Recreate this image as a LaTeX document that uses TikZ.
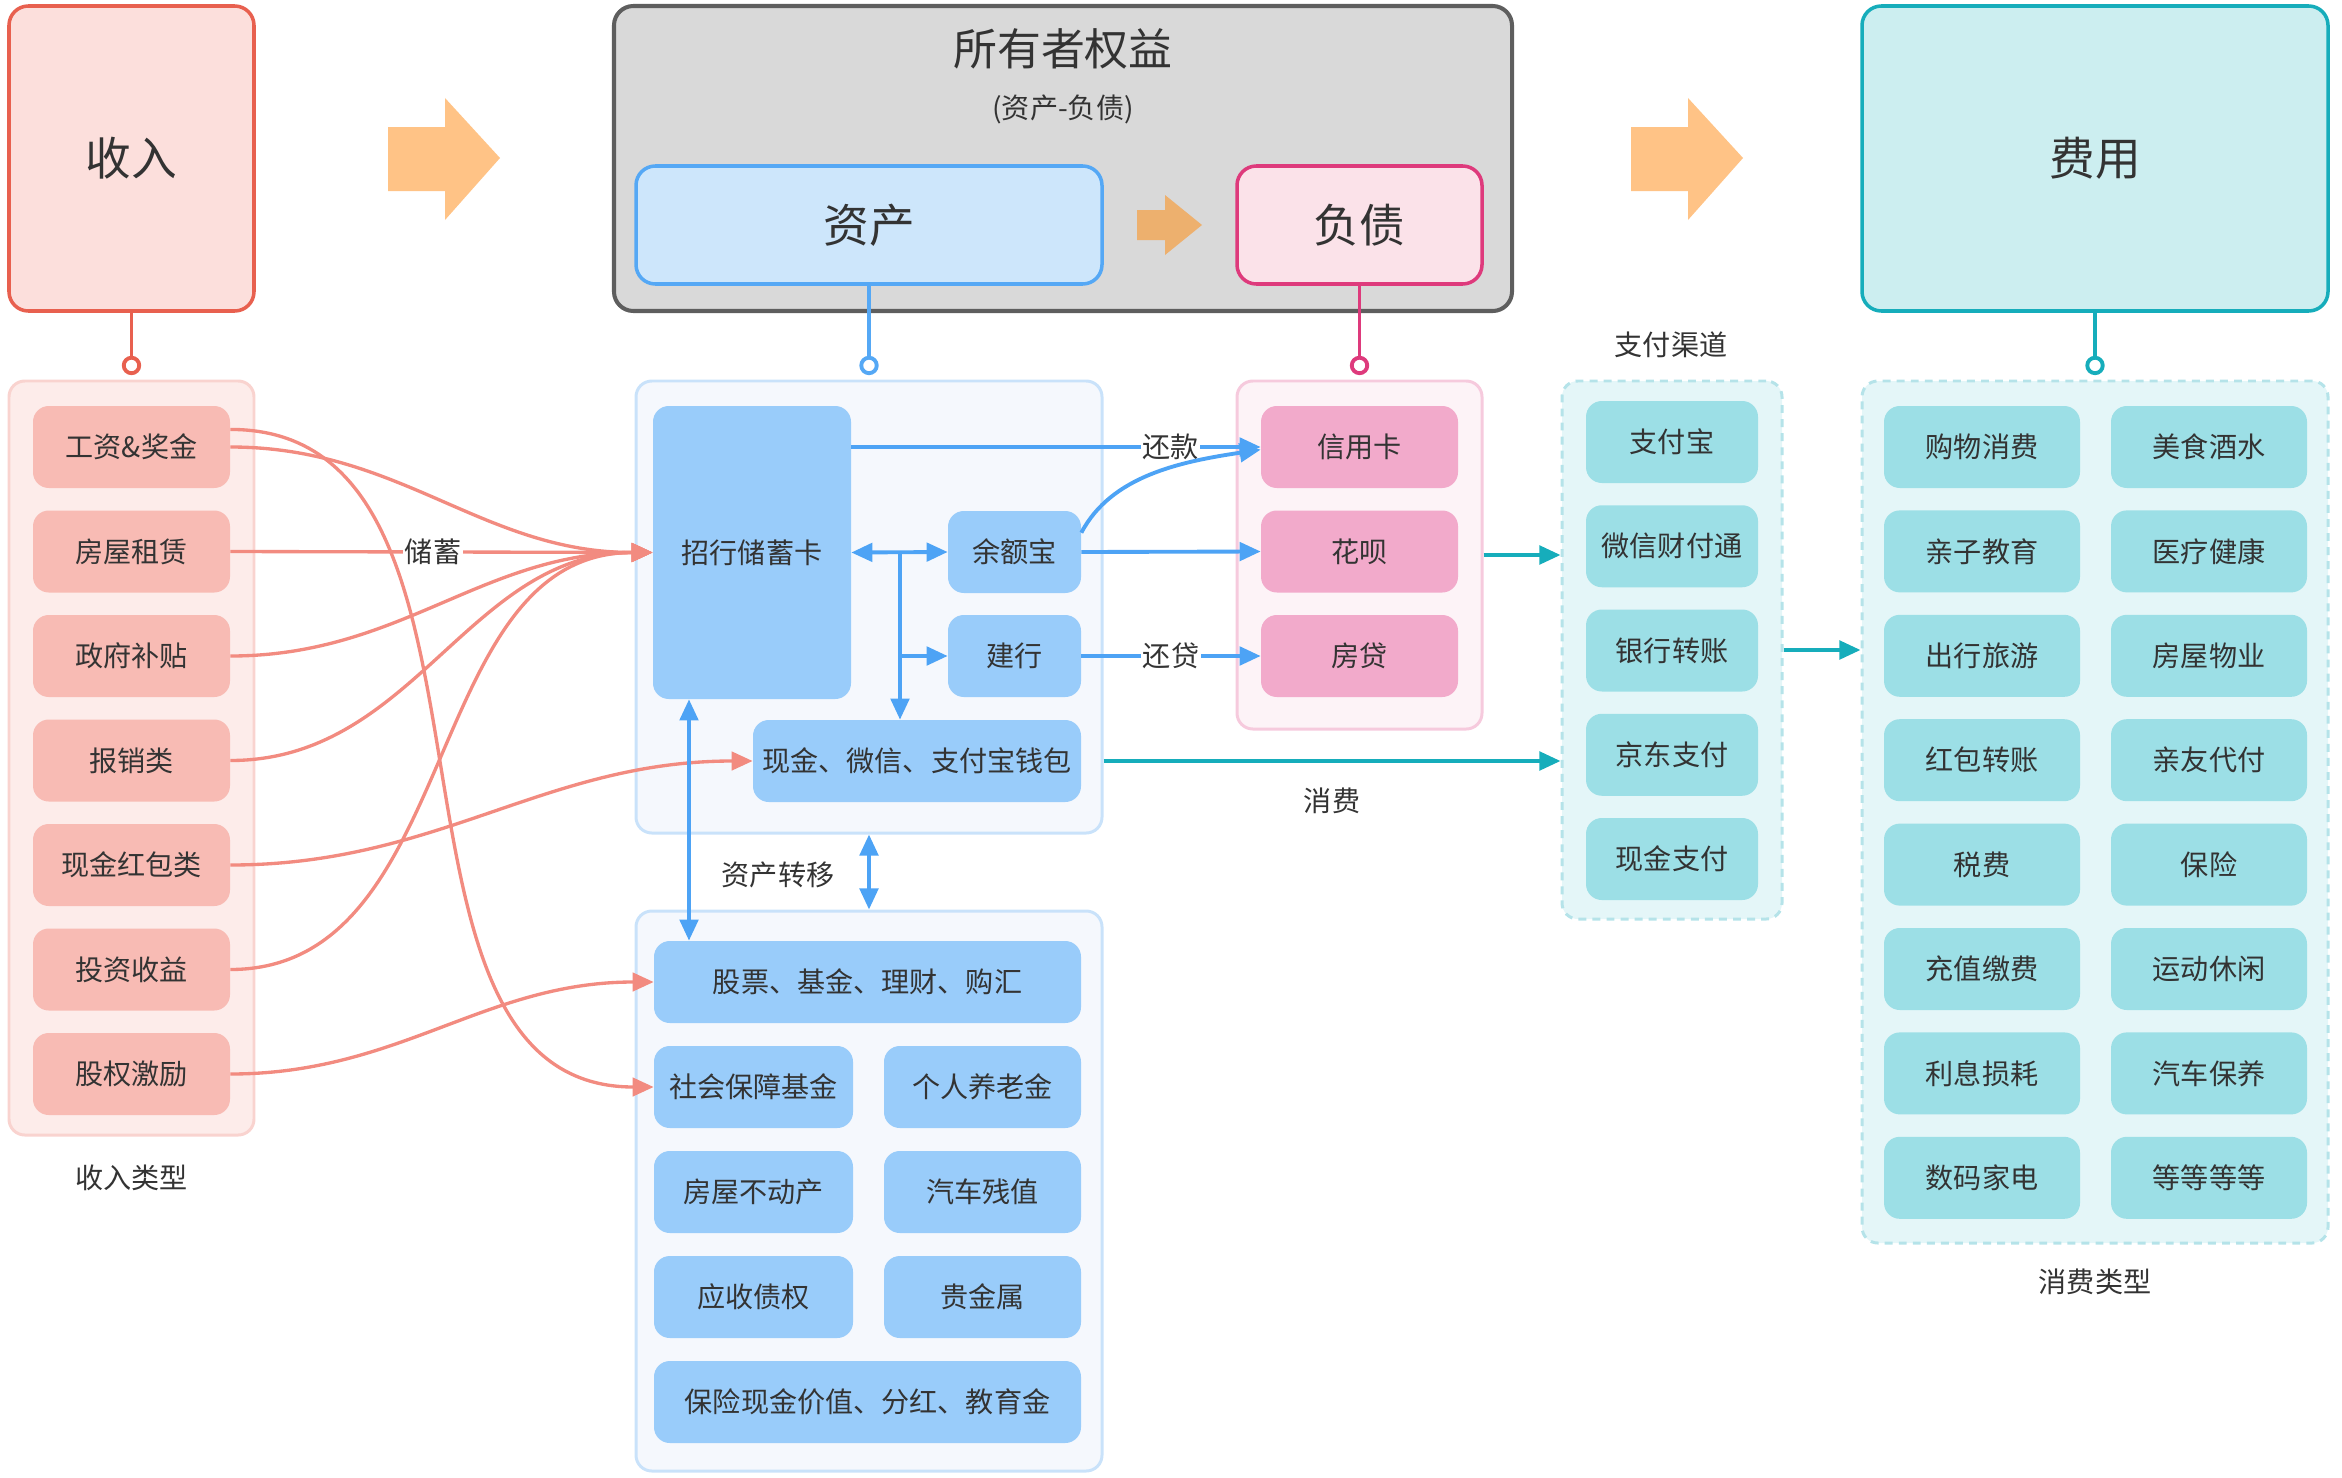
\documentclass[tikz,border=0pt]{standalone}
\usepackage{fontspec}
\setmainfont{Noto Sans CJK SC}
\usetikzlibrary{arrows.meta,positioning}
\definecolor{txt}{HTML}{333333}
\definecolor{srD}{HTML}{E8604F}
\definecolor{srF}{HTML}{FCDFDC}
\definecolor{srC}{HTML}{FDECEA}
\definecolor{srCd}{HTML}{F9D3CF}
\definecolor{srI}{HTML}{F8BBB4}
\definecolor{srL}{HTML}{F28B80}
\definecolor{qyD}{HTML}{5E5E5E}
\definecolor{qyF}{HTML}{D9D9D9}
\definecolor{zcD}{HTML}{55A8F5}
\definecolor{zcF}{HTML}{CDE6FB}
\definecolor{zcC}{HTML}{F5F8FD}
\definecolor{zcCd}{HTML}{C9E2FA}
\definecolor{zcI}{HTML}{99CCFA}
\definecolor{zcL}{HTML}{4DA3F5}
\definecolor{fzD}{HTML}{DE3A7C}
\definecolor{fzF}{HTML}{FBE2E9}
\definecolor{fzC}{HTML}{FDF3F7}
\definecolor{fzCd}{HTML}{F6CADD}
\definecolor{fzI}{HTML}{F2AACB}
\definecolor{fyD}{HTML}{16ADBB}
\definecolor{fyF}{HTML}{CCEEF0}
\definecolor{fyC}{HTML}{E4F6F8}
\definecolor{fyCd}{HTML}{B5E3E9}
\definecolor{fyI}{HTML}{9CDFE6}
\definecolor{jtA}{HTML}{FFC386}
\definecolor{jtB}{HTML}{EDB06E}
\newcommand{\upx}{0.02cm}
\newcommand{\dafont}{\fontsize{26}{30}\selectfont}
\newcommand{\xiaofont}{\fontsize{16}{19}\selectfont}
\begin{document}
\begin{tikzpicture}[x=0.02cm, y=-0.02cm, >={Triangle[length=12pt,width=10.5pt]},
	big/.style={draw, line width=2pt, rounded corners=11pt, inner sep=0pt, font=\dafont, text=txt},
	grp/.style={draw, line width=1.7pt, rounded corners=9pt, inner sep=0pt},
	grpd/.style={grp, dash pattern=on 4.5pt off 3.5pt},
	itm/.style={rounded corners=9pt, inner sep=0pt, minimum height=82*\upx, font=\xiaofont, text=txt},
	lab/.style={font=\xiaofont, text=txt, inner sep=1pt},
	inc/.style={srL, line width=1.9pt, ->},
	zcl/.style={zcL, line width=2.2pt},
	fyl/.style={fyD, line width=2.2pt, ->},
	stub/.style={line width=2.2pt, shorten >=2.5pt, -{Circle[open, length=11pt]}}]
	\useasboundingbox (0,0) rectangle (2342,1477);
	% Bốn khối lớn
	\node[big, fill=srF, draw=srD, minimum width=245*\upx, minimum height=305*\upx] (sr) at (131.5,158.5) {收入};
	\node[big, fill=qyF, draw=qyD, line width=2.3pt, minimum width=898*\upx, minimum height=305*\upx] (qy) at (1063,158.5) {};
	\node[font=\fontsize{25}{30}\selectfont, text=txt] (qyt) at (1063,49) {所有者权益};
	\node[lab] (qys) at (1063,109) {(资产-负债)};
	\node[big, fill=zcF, draw=zcD, minimum width=466*\upx, minimum height=118*\upx] (zc) at (869,225) {资产};
	\node[big, fill=fzF, draw=fzD, minimum width=245*\upx, minimum height=118*\upx] (fz) at (1359.5,225) {负债};
	\node[big, fill=fyF, draw=fyD, minimum width=466*\upx, minimum height=305*\upx] (fy) at (2095,158.5) {费用};
	% Mũi tên cam
	\fill[jtA] (388,127) -- (445,127) -- (445,98) -- (500,158) -- (445,220) -- (445,191) -- (388,191) -- cycle;
	\fill[jtA] (1631,127) -- (1688,127) -- (1688,98) -- (1743,158) -- (1688,220) -- (1688,191) -- (1631,191) -- cycle;
	\fill[jtB] (1137,210) -- (1165,210) -- (1165,195) -- (1202,225) -- (1165,255) -- (1165,240) -- (1137,240) -- cycle;
	% Các nhóm
	\node[grp, fill=srC, draw=srCd, minimum width=245*\upx, minimum height=754*\upx] (src) at (131.5,758) {};
	\node[grp, fill=zcC, draw=zcCd, minimum width=466*\upx, minimum height=452*\upx] (zc1) at (869,607) {};
	\node[grp, fill=zcC, draw=zcCd, minimum width=466*\upx, minimum height=560*\upx] (zc2) at (869,1191) {};
	\node[grp, fill=fzC, draw=fzCd, minimum width=245*\upx, minimum height=348*\upx] (fzc) at (1359.5,555) {};
	\node[grpd, fill=fyC, draw=fyCd, minimum width=220*\upx, minimum height=538*\upx] (zfc) at (1672,650) {};
	\node[grpd, fill=fyC, draw=fyCd, minimum width=466*\upx, minimum height=862*\upx] (fyc) at (2095,812) {};
	% Nối khối lớn với nhóm
	\draw[stub, srD] (sr.south) -- (src.north);
	\draw[stub, zcD] (zc.south) -- (zc1.north);
	\draw[stub, fzD] (fz.south) -- (fzc.north);
	\draw[stub, fyD] (fy.south) -- (fyc.north);
	% Nhãn nhóm
	\node[lab] (srlx) at (131.5,1178) {收入类型};
	\node[lab] (zfqd) at (1671,345) {支付渠道};
	\node[lab] (fylx) at (2095,1282) {消费类型};
	\node[lab] (zczy) at (778,875) {资产转移};
	% 收入
	\foreach \t [count=\i] in {工资\&奖金, 房屋租赁, 政府补贴, 报销类, 现金红包类, 投资收益, 股权激励} {
	\node[itm, fill=srI, minimum width=197*\upx] (sr\i) at (131.5,{447+104.5*(\i-1)}) {\t};
	}
	% 资产
	\node[itm, fill=zcI, minimum width=198*\upx, minimum height=293*\upx] (zh) at (752,552.5) {招行储蓄卡};
	\node[itm, fill=zcI, minimum width=133*\upx] (yeb) at (1014.5,552) {余额宝};
	\node[itm, fill=zcI, minimum width=133*\upx] (jh) at (1014.5,656) {建行};
	\node[itm, fill=zcI, minimum width=328*\upx] (xj) at (917,761) {现金、微信、支付宝钱包};
	\node[itm, fill=zcI, minimum width=427*\upx] (gp) at (867.5,982) {股票、基金、理财、购汇};
	\node[itm, fill=zcI, minimum width=199*\upx] (sb) at (753.5,1087) {社会保障基金};
	\node[itm, fill=zcI, minimum width=197*\upx] (yl) at (982.5,1087) {个人养老金};
	\node[itm, fill=zcI, minimum width=199*\upx] (fw) at (753.5,1192) {房屋不动产};
	\node[itm, fill=zcI, minimum width=197*\upx] (qc) at (982.5,1192) {汽车残值};
	\node[itm, fill=zcI, minimum width=199*\upx] (zq) at (753.5,1297) {应收债权};
	\node[itm, fill=zcI, minimum width=197*\upx] (gj) at (982.5,1297) {贵金属};
	\node[itm, fill=zcI, minimum width=427*\upx] (bx) at (867.5,1402) {保险现金价值、分红、教育金};
	% 负债
	\foreach \t/\n [count=\i] in {信用卡/xyk, 花呗/hb, 房贷/fd} {
	\node[itm, fill=fzI, minimum width=197*\upx] (\n) at (1359.5,{447+104.5*(\i-1)}) {\t};
	}
	% 支付渠道
	\foreach \t [count=\i] in {支付宝, 微信财付通, 银行转账, 京东支付, 现金支付} {
	\node[itm, fill=fyI, minimum width=172*\upx] (zf\i) at (1672,{442+104.25*(\i-1)}) {\t};
	}
	% 消费类型
	\foreach \a/\b [count=\i] in {购物消费/美食酒水, 亲子教育/医疗健康, 出行旅游/房屋物业, 红包转账/亲友代付, 税费/保险, 充值缴费/运动休闲, 利息损耗/汽车保养, 数码家电/等等等等} {
	\node[itm, fill=fyI, minimum width=196*\upx] (fa\i) at (1982,{447+104.4*(\i-1)}) {\a};
	\node[itm, fill=fyI, minimum width=196*\upx] (fb\i) at (2209,{447+104.4*(\i-1)}) {\b};
	}
	% Đường thu nhập
	\draw[inc] ([yshift=10pt]sr1.east) to[out=0,in=180] (sb.west);
	\draw[inc] (sr1.east) to[out=0,in=180] (zh.west);
	\draw[inc] (sr3.east) to[out=0,in=180] (zh.west);
	\draw[inc] (sr4.east) to[out=0,in=180] (zh.west);
	\draw[inc] (sr5.east) to[out=0,in=180] (xj.west);
	\draw[inc] (sr6.east) to[out=0,in=180] (zh.west);
	\draw[inc] (sr7.east) to[out=0,in=180] (gp.west);
	\draw[inc] (sr2.east) -- node[lab, fill=white, pos=0.48] {储蓄} (zh.west);
	% Đường trong tài sản
	\coordinate (fc) at (900,552);
	\coordinate (zy) at (689,0);
	\draw[zcl, <->] (zh.east) -- (yeb.west);
	\draw[zcl, ->] (fc) -- (fc |- xj.north);
	\draw[zcl, ->] (fc |- jh) -- (jh.west);
	\draw[zcl, <->] (zh.south -| zy) -- (gp.north -| zy);
	\draw[zcl, <->] (zc1.south) -- (zc2.north);
	% Trả nợ
	\draw[zcl, ->] (zh.east |- xyk) -- node[lab, fill=white, pos=0.78] {还款} (xyk.west);
	\draw[zcl, ->] ([yshift=11pt]yeb.east) .. controls +(30,-57) and +(-80,12) .. ([yshift=-1.5pt]xyk.west);
	\draw[zcl, ->] (yeb.east) -- (hb.west);
	\draw[zcl, ->] (jh.east) -- node[lab, fill=white] {还贷} (fd.west);
	% Chi tiêu
	\draw[fyl] (fzc.east) -- (fzc.east -| zfc.west);
	\draw[fyl] (zc1.east |- xj) -- node[lab, below=13pt] {消费} (xj -| zfc.west);
	\draw[fyl] (zfc.east) -- (zfc.east -| fyc.west);
\end{tikzpicture}
\end{document}
